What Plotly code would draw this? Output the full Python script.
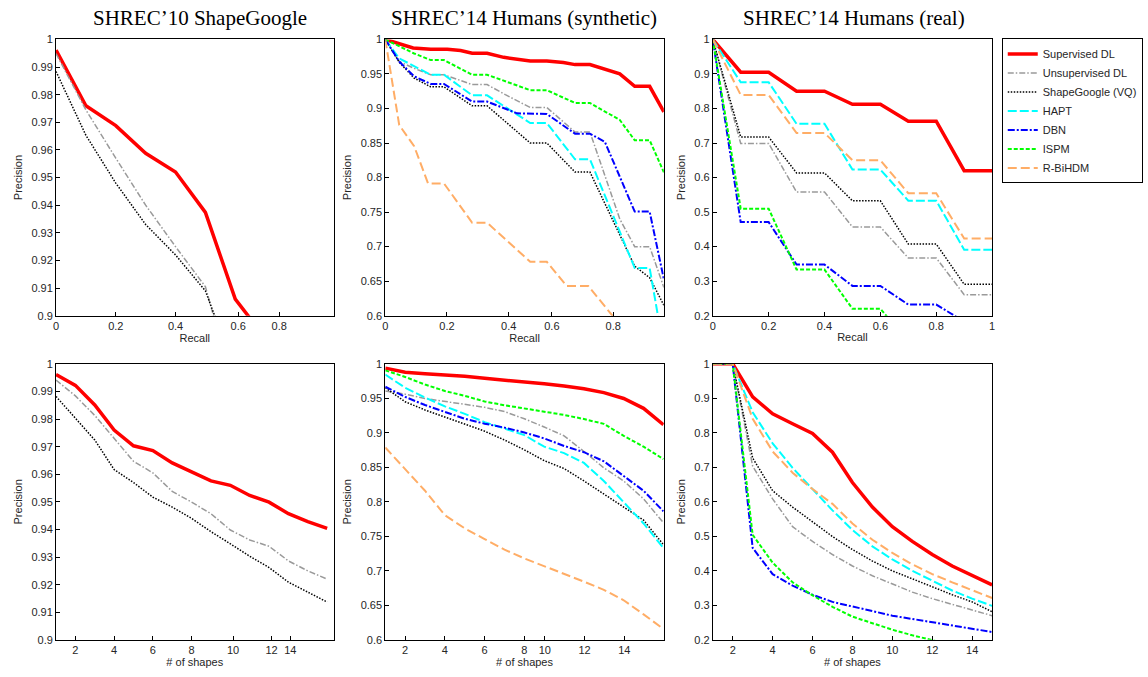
import plotly.graph_objects as go

# ---------------- data ----------------
series_names = ["Supervised DL", "Unsupervised DL", "ShapeGoogle (VQ)", "HAPT", "DBN", "ISPM", "R-BiHDM"]
panel_titles = ["SHREC\u201910 ShapeGoogle", "SHREC\u201914 Humans (synthetic)", "SHREC\u201914 Humans (real)"]

# Top-left: SHREC'10 precision / recall
tl_recall = [0, 0.1, 0.2, 0.3, 0.4, 0.5, 0.6, 0.7]
tl_sup = [0.9961, 0.976, 0.9688, 0.9588, 0.952, 0.9374, 0.906, 0.892]
tl_unsup = [0.9949, 0.9745, 0.957, 0.940, 0.925, 0.9105, 0.8715, 0.84]
tl_sg = [0.9884, 0.9653, 0.948, 0.933, 0.922, 0.909, 0.88, 0.85]

# Top-middle: SHREC'14 synthetic precision / recall (per-series recall)
tm_x_sup = [0, 0.0903, 0.1473, 0.2011, 0.2441, 0.2817, 0.3301, 0.3839, 0.4699, 0.5237, 0.5774, 0.6151, 0.6634, 0.7065, 0.7602, 0.8086, 0.8570, 0.9032]
tm_y_sup = [1, 0.9877, 0.9858, 0.9858, 0.984, 0.980, 0.980, 0.974, 0.9687, 0.9687, 0.9664, 0.9635, 0.9635, 0.958, 0.950, 0.932, 0.932, 0.895]
tm_x_unsup = [0, 0.0452, 0.0935, 0.1473, 0.1903, 0.2817, 0.3301, 0.3892, 0.4699, 0.5237, 0.6151, 0.6634, 0.7602, 0.8086, 0.8570, 0.9032]
tm_y_unsup = [1, 0.968, 0.958, 0.9488, 0.9488, 0.9346, 0.9346, 0.920, 0.9014, 0.9014, 0.866, 0.866, 0.740, 0.700, 0.700, 0.641]
tm_x_sg = [0, 0.0452, 0.0935, 0.1473, 0.1903, 0.2817, 0.3301, 0.4699, 0.5237, 0.6151, 0.6634, 0.8086, 0.8570, 0.9032]
tm_y_sg = [1, 0.967, 0.944, 0.9313, 0.9313, 0.9038, 0.9038, 0.850, 0.850, 0.808, 0.808, 0.6716, 0.655, 0.615]
tm_x_hapt = [0, 0.0452, 0.1473, 0.1903, 0.2817, 0.3301, 0.4699, 0.5237, 0.6151, 0.6634, 0.8086, 0.8570, 0.8839, 0.9032]
tm_y_hapt = [1, 0.9725, 0.9488, 0.9488, 0.919, 0.919, 0.879, 0.879, 0.8265, 0.8265, 0.669, 0.669, 0.6, 0.56]
tm_x_dbn = [0, 0.0452, 0.0935, 0.1473, 0.1903, 0.2817, 0.3301, 0.4269, 0.5237, 0.6151, 0.6634, 0.7118, 0.8086, 0.8570, 0.9032]
tm_y_dbn = [1, 0.968, 0.9465, 0.9355, 0.9355, 0.910, 0.910, 0.893, 0.892, 0.8635, 0.8635, 0.8517, 0.7507, 0.7507, 0.6526]
tm_x_ispm = [0, 0.0935, 0.1473, 0.1903, 0.2817, 0.3301, 0.4699, 0.5237, 0.6151, 0.6634, 0.7602, 0.8086, 0.8570, 0.9032]
tm_y_ispm = [1, 0.9796, 0.970, 0.970, 0.9488, 0.9488, 0.9265, 0.9265, 0.908, 0.908, 0.8834, 0.854, 0.854, 0.8076]
tm_x_rb = [0, 0.0452, 0.0935, 0.1387, 0.1903, 0.2817, 0.3301, 0.4699, 0.5237, 0.5882, 0.6581, 0.7366, 0.7602]
tm_y_rb = [1, 0.876, 0.8455, 0.7915, 0.7915, 0.7346, 0.7346, 0.678, 0.678, 0.643, 0.643, 0.6, 0.587]

# Top-right: SHREC'14 real precision / recall
tr_recall = [0, 0.1, 0.2, 0.3, 0.4, 0.5, 0.6, 0.7, 0.8, 0.9, 1.0]
tr_sup = [1, 0.905, 0.905, 0.850, 0.850, 0.8123, 0.8123, 0.763, 0.763, 0.620, 0.620]
tr_unsup = [1, 0.6986, 0.6986, 0.5583, 0.5583, 0.4569, 0.4569, 0.367, 0.367, 0.261, 0.261]
tr_sg = [1, 0.7175, 0.7175, 0.6133, 0.6133, 0.5327, 0.5327, 0.4076, 0.4076, 0.291, 0.291]
tr_hapt = [1, 0.876, 0.876, 0.7555, 0.7555, 0.623, 0.623, 0.533, 0.533, 0.391, 0.391]
tr_dbn = [1, 0.471, 0.471, 0.348, 0.348, 0.2863, 0.2863, 0.2322, 0.2322, 0.183, 0.183]
tr_ispm = [1, 0.5099, 0.5099, 0.3336, 0.3336, 0.22, 0.22, 0.125, 0.125, 0.10, 0.10]
tr_rb = [1, 0.839, 0.839, 0.729, 0.729, 0.650, 0.650, 0.5545, 0.5545, 0.4237, 0.4237]

# Bottom row: precision vs number of shapes
shapes = list(range(1, 16))
bl_sup = [0.9961, 0.9922, 0.9851, 0.976, 0.9703, 0.9686, 0.9641, 0.9609, 0.9576, 0.956, 0.9523, 0.9499, 0.9457, 0.9428, 0.9404]
bl_unsup = [0.9941, 0.9884, 0.9813, 0.973, 0.9647, 0.9605, 0.9538, 0.9499, 0.9457, 0.9398, 0.9362, 0.9339, 0.9286, 0.925, 0.922]
bl_sg = [0.9882, 0.9801, 0.9724, 0.9617, 0.957, 0.9517, 0.9481, 0.944, 0.9392, 0.9348, 0.9303, 0.9262, 0.9209, 0.9173, 0.9137]

bm_sup = [0.9938, 0.9877, 0.9858, 0.9844, 0.982, 0.9791, 0.9768, 0.9739, 0.971, 0.9678, 0.964, 0.9583, 0.9498, 0.9355, 0.9118]
bm_unsup = [0.9607, 0.956, 0.9498, 0.9455, 0.9417, 0.937, 0.9308, 0.9204, 0.9085, 0.8957, 0.873, 0.8493, 0.8303, 0.8043, 0.7697]
bm_sg = [0.9654, 0.945, 0.9332, 0.9227, 0.9133, 0.9024, 0.8896, 0.8754, 0.8597, 0.8483, 0.8303, 0.8114, 0.7934, 0.7735, 0.738]
bm_hapt = [0.9844, 0.9654, 0.9512, 0.9384, 0.9275, 0.9156, 0.9062, 0.8967, 0.880, 0.8706, 0.8564, 0.8303, 0.7995, 0.7687, 0.7332]
bm_dbn = [0.9668, 0.9521, 0.9403, 0.9299, 0.9204, 0.9133, 0.9076, 0.9005, 0.892, 0.881, 0.872, 0.8588, 0.8375, 0.8161, 0.7863]
bm_ispm = [0.9905, 0.981, 0.970, 0.9607, 0.9536, 0.9455, 0.940, 0.9355, 0.930, 0.926, 0.920, 0.913, 0.8957, 0.880, 0.862]
bm_rb = [0.8787, 0.8469, 0.8161, 0.7806, 0.7616, 0.746, 0.7308, 0.718, 0.7071, 0.6953, 0.6844, 0.6725, 0.6574, 0.637, 0.6157]

br_sup = [1, 1, 0.9043, 0.855, 0.8265, 0.798, 0.744, 0.6559, 0.5848, 0.528, 0.4853, 0.4474, 0.4142, 0.3858, 0.3592]
br_unsup = [1, 1, 0.7033, 0.6085, 0.528, 0.4853, 0.4474, 0.4142, 0.3858, 0.3621, 0.3384, 0.3194, 0.3024, 0.2863, 0.2701]
br_sg = [1, 1, 0.727, 0.6322, 0.5848, 0.5422, 0.4995, 0.4616, 0.4284, 0.40, 0.3763, 0.3526, 0.3308, 0.31, 0.2815]
br_hapt = [1, 1, 0.8597, 0.7697, 0.6986, 0.637, 0.5754, 0.5185, 0.4711, 0.4332, 0.40, 0.3716, 0.3431, 0.3194, 0.2986]
br_dbn = [1, 1, 0.4664, 0.3905, 0.3573, 0.3308, 0.31, 0.2957, 0.2834, 0.2701, 0.2607, 0.2502, 0.2417, 0.2322, 0.2227]
br_ispm = [1, 1, 0.5043, 0.4237, 0.3668, 0.329, 0.2957, 0.2673, 0.2483, 0.2294, 0.2133, 0.198, 0.185, 0.175, 0.165]
br_rb = [1, 1, 0.8408, 0.746, 0.6844, 0.637, 0.5943, 0.5374, 0.49, 0.4521, 0.4189, 0.3905, 0.3668, 0.3431, 0.3213]

# tick labels
recall_ticktext = ["0", "0.2", "0.4", "0.6", "0.8"]
recall_ticktext_full = ["0", "0.2", "0.4", "0.6", "0.8", "1"]
shapes_ticktext = ["2", "4", "6", "8", "10", "12", "14"]

# ---------------- styles ----------------
styles = {
    "Supervised DL": dict(color="#ff0000", width=3.5, dash="solid"),
    "Unsupervised DL": dict(color="#9a9a9a", width=1.5, dash="6px,2px,1.5px,2px"),
    "ShapeGoogle (VQ)": dict(color="#000000", width=1.5, dash="1.5px,1.5px"),
    "HAPT": dict(color="#00ffff", width=2, dash="9px,3px"),
    "DBN": dict(color="#0000ff", width=2, dash="7px,2px,2px,2px"),
    "ISPM": dict(color="#00ff00", width=2, dash="4px,2px"),
    "R-BiHDM": dict(color="#ffad66", width=2, dash="9px,4px"),
}

panels = [
    (1, [("Supervised DL", tl_recall, tl_sup), ("Unsupervised DL", tl_recall, tl_unsup),
         ("ShapeGoogle (VQ)", tl_recall, tl_sg)]),
    (2, [("Supervised DL", tm_x_sup, tm_y_sup), ("Unsupervised DL", tm_x_unsup, tm_y_unsup),
         ("ShapeGoogle (VQ)", tm_x_sg, tm_y_sg), ("HAPT", tm_x_hapt, tm_y_hapt),
         ("DBN", tm_x_dbn, tm_y_dbn), ("ISPM", tm_x_ispm, tm_y_ispm), ("R-BiHDM", tm_x_rb, tm_y_rb)]),
    (3, [("Supervised DL", tr_recall, tr_sup), ("Unsupervised DL", tr_recall, tr_unsup),
         ("ShapeGoogle (VQ)", tr_recall, tr_sg), ("HAPT", tr_recall, tr_hapt),
         ("DBN", tr_recall, tr_dbn), ("ISPM", tr_recall, tr_ispm), ("R-BiHDM", tr_recall, tr_rb)]),
    (4, [("Supervised DL", shapes, bl_sup), ("Unsupervised DL", shapes, bl_unsup),
         ("ShapeGoogle (VQ)", shapes, bl_sg)]),
    (5, [("Supervised DL", shapes, bm_sup), ("Unsupervised DL", shapes, bm_unsup),
         ("ShapeGoogle (VQ)", shapes, bm_sg), ("HAPT", shapes, bm_hapt),
         ("DBN", shapes, bm_dbn), ("ISPM", shapes, bm_ispm), ("R-BiHDM", shapes, bm_rb)]),
    (6, [("Supervised DL", shapes, br_sup), ("Unsupervised DL", shapes, br_unsup),
         ("ShapeGoogle (VQ)", shapes, br_sg), ("HAPT", shapes, br_hapt),
         ("DBN", shapes, br_dbn), ("ISPM", shapes, br_ispm), ("R-BiHDM", shapes, br_rb)]),
]

fig = go.Figure()
for idx, series in panels:
    for name, xs, ys in series:
        st = styles[name]
        fig.add_trace(go.Scatter(
            x=xs, y=ys, mode="lines", name=name,
            line=dict(color=st["color"], width=st["width"], dash=st["dash"]),
            xaxis="x" if idx == 1 else f"x{idx}",
            yaxis="y" if idx == 1 else f"y{idx}",
            showlegend=(idx == 2), legendgroup=name,
        ))

W, H = 1148, 677
def px_x(a, b):
    return [a / W, b / W]
def px_y(top, bottom):
    return [(H - bottom) / H, (H - top) / H]

xdoms = [px_x(53.3, 332.3), px_x(384.3, 664.3), px_x(713.5, 994.3)]
ydoms = [px_y(34, 315.3), px_y(364.3, 645.3)]

FONT = "Liberation Sans, Arial, Helvetica, sans-serif"
TXT = "#262626"
base = dict(showline=True, mirror=True, linecolor="#000000", linewidth=1,
            ticks="inside", ticklen=4, tickcolor="#000000", tickwidth=1,
            showgrid=False, zeroline=False,
            tickfont=dict(family=FONT, size=11, color=TXT))

xcfg = {
    1: dict(range=[0, 0.929], tickvals=[0, 0.2, 0.4, 0.61, 0.747], ticktext=recall_ticktext, title="Recall"),
    2: dict(range=[0, 0.903], tickvals=[0, 0.2, 0.4, 0.54, 0.739], ticktext=recall_ticktext, title="Recall"),
    3: dict(range=[0, 1], tickvals=[0, 0.2, 0.4, 0.6, 0.8, 1.0], ticktext=recall_ticktext_full, title="Recall"),
    4: dict(range=[1, 15.33], tickvals=[2, 4, 6, 8, 10.14, 12.13, 13.1], ticktext=shapes_ticktext, title="# of shapes"),
    5: dict(range=[1, 15.02], tickvals=[2, 4, 6, 8, 9.03, 11.03, 13.03], ticktext=shapes_ticktext, title="# of shapes"),
    6: dict(range=[1, 15], tickvals=[2, 4, 6, 8, 10, 12, 14], ticktext=shapes_ticktext, title="# of shapes"),
}
ycfg = {
    1: dict(range=[0.9, 1], dtick=0.01), 2: dict(range=[0.6, 1], dtick=0.05), 3: dict(range=[0.2, 1], dtick=0.1),
    4: dict(range=[0.9, 1], dtick=0.01), 5: dict(range=[0.6, 1], dtick=0.05), 6: dict(range=[0.2, 1], dtick=0.1),
}

layout = {}
for i in range(1, 7):
    col = (i - 1) % 3
    row = (i - 1) // 3
    xk = "xaxis" if i == 1 else f"xaxis{i}"
    yk = "yaxis" if i == 1 else f"yaxis{i}"
    xa = dict(base)
    c = xcfg[i]
    xa.update(domain=xdoms[col], range=c["range"], tickmode="array", tickvals=c["tickvals"],
              ticktext=c["ticktext"], anchor="y" if i == 1 else f"y{i}",
              title=dict(text=c["title"], font=dict(family=FONT, size=11, color=TXT), standoff=2))
    ya = dict(base)
    yc = ycfg[i]
    ya.update(domain=ydoms[row], range=yc["range"], tick0=yc["range"][0], dtick=yc["dtick"],
              anchor="x" if i == 1 else f"x{i}",
              title=dict(text="Precision", font=dict(family=FONT, size=11, color=TXT), standoff=6))
    layout[xk] = xa
    layout[yk] = ya

title_centers = [198, 524, 855]
annotations = [
    dict(text=t, x=cx / W, y=(H - 12) / H, xref="paper", yref="paper", showarrow=False,
         xanchor="center", yanchor="middle",
         font=dict(family="Liberation Serif, Times New Roman, serif", size=21, color="#000000"))
    for t, cx in zip(panel_titles, title_centers)
]

fig.update_layout(
    width=W, height=H,
    margin=dict(l=0, r=0, t=0, b=0),
    paper_bgcolor="white", plot_bgcolor="white",
    showlegend=True,
    legend=dict(x=1004 / W, y=(H - 33) / H, xanchor="left", yanchor="top",
                bordercolor="#000000", borderwidth=1, bgcolor="white",
                font=dict(family=FONT, size=11, color=TXT),
                itemwidth=30, tracegroupgap=0),
    annotations=annotations,
    **layout,
)

fig.write_html("out.html", config={"displayModeBar": False},
               post_script="document.body.style.margin='0';document.body.style.overflow='hidden';")
